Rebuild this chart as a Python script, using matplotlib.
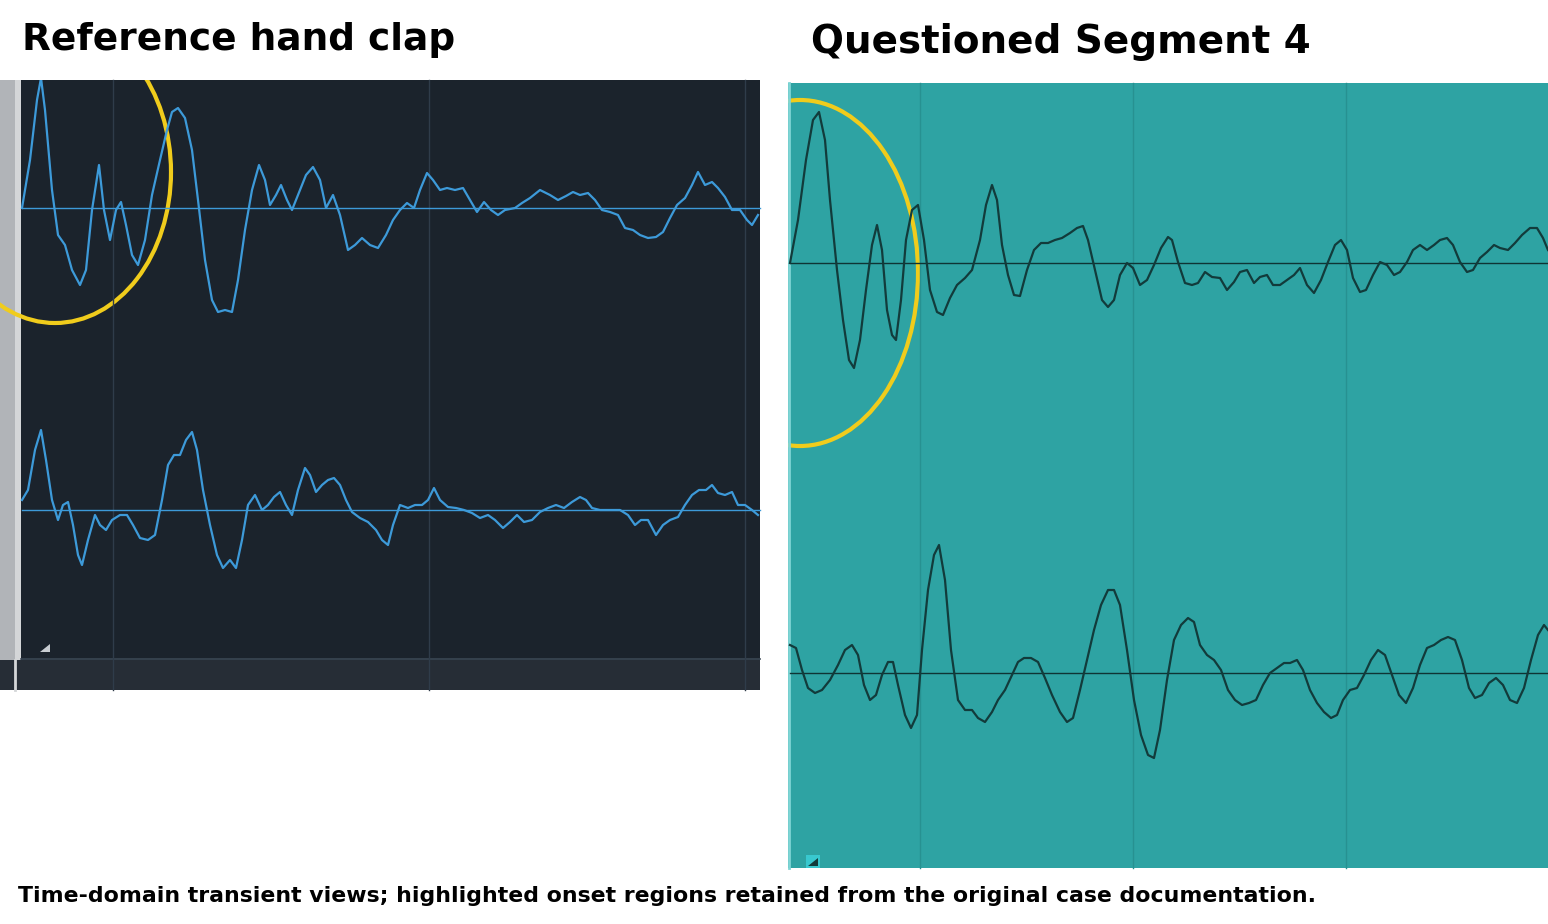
import numpy as np
import matplotlib.pyplot as plt
from matplotlib.patches import Rectangle, Ellipse, Polygon

# waveform samples: x position (px) and y position (px)
left_top_x = [22, 30, 37, 41, 45, 52, 58, 65, 72, 80, 86, 92, 99, 104, 110, 116, 121, 126, 132, 138, 145, 152, 160, 167, 172, 178, 185, 192, 198, 205, 212, 218, 225, 232, 238, 245, 252, 259, 265, 270, 276, 281, 287, 292, 298, 306, 313, 320, 326, 333, 340, 348, 355, 362, 370, 378, 386, 393, 400, 407, 414, 420, 427, 433, 440, 447, 455, 463, 470, 477, 484, 491, 498, 505, 515, 522, 530, 540, 550, 558, 566, 573, 580, 588, 595, 602, 610, 618, 625, 633, 640, 648, 656, 663, 670, 677, 685, 692, 698, 705, 712, 718, 725, 732, 740, 747, 752, 758]
left_top_y = [208, 160, 100, 78, 110, 190, 235, 245, 270, 285, 270, 210, 165, 210, 240, 210, 202, 225, 255, 265, 240, 195, 160, 130, 112, 108, 118, 150, 200, 260, 300, 312, 310, 312, 280, 230, 190, 165, 180, 205, 195, 185, 200, 210, 195, 175, 167, 180, 208, 195, 215, 250, 245, 238, 245, 248, 235, 220, 210, 203, 208, 190, 173, 180, 190, 188, 190, 188, 200, 212, 202, 210, 215, 210, 208, 203, 198, 190, 195, 200, 196, 192, 195, 193, 200, 210, 212, 215, 228, 230, 235, 238, 237, 232, 218, 205, 198, 185, 172, 185, 182, 188, 197, 210, 210, 220, 225, 215]
left_bot_x = [22, 28, 35, 41, 46, 52, 58, 63, 68, 73, 78, 82, 88, 95, 100, 106, 112, 120, 127, 133, 140, 148, 155, 162, 168, 174, 180, 186, 192, 197, 203, 210, 217, 223, 230, 236, 242, 248, 255, 262, 268, 274, 280, 286, 292, 298, 305, 310, 316, 322, 328, 334, 340, 346, 352, 360, 368, 376, 382, 388, 393, 400, 408, 415, 422, 428, 434, 440, 448, 456, 464, 472, 480, 488, 495, 503, 510, 517, 524, 532, 540, 548, 556, 564, 572, 580, 586, 592, 600, 610, 620, 628, 635, 641, 648, 656, 663, 670, 678, 685, 692, 699, 706, 712, 718, 725, 732, 738, 745, 752, 758]
left_bot_y = [500, 490, 450, 430, 460, 500, 520, 505, 502, 525, 555, 565, 540, 515, 525, 530, 520, 515, 515, 525, 538, 540, 535, 500, 465, 455, 455, 440, 432, 450, 490, 525, 555, 568, 560, 568, 540, 505, 495, 510, 505, 497, 492, 505, 515, 490, 468, 475, 492, 485, 480, 478, 485, 500, 512, 518, 522, 530, 540, 545, 525, 505, 508, 505, 505, 500, 488, 500, 507, 508, 510, 513, 518, 515, 520, 528, 522, 515, 522, 520, 512, 508, 505, 508, 502, 497, 500, 508, 510, 510, 510, 515, 525, 520, 520, 535, 525, 520, 517, 505, 495, 490, 490, 485, 493, 495, 492, 505, 505, 510, 515]
right_top_x = [790, 798, 806, 813, 819, 825, 830, 837, 843, 849, 854, 860, 866, 872, 877, 882, 887, 892, 896, 901, 906, 912, 918, 924, 930, 937, 943, 950, 957, 965, 972, 980, 986, 992, 997, 1002, 1008, 1014, 1020, 1027, 1034, 1041, 1048, 1055, 1062, 1070, 1077, 1083, 1088, 1095, 1102, 1108, 1114, 1120, 1127, 1133, 1140, 1147, 1154, 1161, 1168, 1172, 1178, 1185, 1192, 1198, 1205, 1212, 1220, 1227, 1234, 1240, 1247, 1254, 1260, 1267, 1273, 1280, 1287, 1294, 1300, 1307, 1314, 1321, 1328, 1335, 1341, 1347, 1353, 1360, 1366, 1373, 1380, 1387, 1394, 1400, 1407, 1413, 1420, 1427, 1434, 1440, 1447, 1453, 1460, 1467, 1473, 1480, 1487, 1494, 1500, 1508, 1515, 1522, 1530, 1537, 1543, 1548]
right_top_y = [263, 220, 160, 120, 112, 140, 200, 270, 320, 360, 368, 340, 290, 245, 225, 250, 310, 335, 340, 300, 240, 210, 205, 240, 290, 312, 315, 298, 285, 278, 270, 240, 205, 185, 200, 245, 275, 295, 296, 270, 250, 243, 243, 240, 238, 233, 228, 226, 240, 270, 300, 307, 300, 275, 263, 268, 285, 280, 265, 248, 237, 240, 262, 283, 285, 283, 272, 277, 278, 290, 282, 272, 270, 283, 277, 275, 285, 285, 280, 275, 268, 285, 293, 280, 262, 245, 240, 250, 278, 292, 290, 275, 262, 265, 275, 272, 262, 250, 245, 250, 245, 240, 238, 245, 262, 272, 270, 258, 252, 245, 248, 250, 243, 235, 228, 228, 238, 250]
right_bot_x = [790, 796, 802, 808, 815, 822, 830, 838, 845, 852, 858, 864, 870, 876, 882, 888, 893, 898, 905, 911, 917, 922, 928, 934, 939, 945, 951, 958, 965, 972, 978, 985, 992, 998, 1005, 1012, 1018, 1024, 1031, 1038, 1045, 1052, 1060, 1067, 1073, 1080, 1087, 1094, 1101, 1108, 1114, 1120, 1127, 1134, 1141, 1148, 1154, 1160, 1167, 1174, 1181, 1188, 1194, 1200, 1207, 1214, 1221, 1228, 1235, 1242, 1249, 1256, 1263, 1270, 1277, 1284, 1290, 1297, 1303, 1310, 1317, 1324, 1331, 1337, 1343, 1350, 1357, 1364, 1371, 1378, 1385, 1392, 1399, 1406, 1413, 1420, 1427, 1434, 1441, 1448, 1455, 1462, 1469, 1475, 1482, 1489, 1496, 1503, 1510, 1517, 1524, 1531, 1538, 1544, 1548]
right_bot_y = [645, 648, 670, 688, 693, 690, 680, 665, 650, 645, 655, 685, 700, 695, 675, 662, 662, 685, 715, 728, 715, 650, 590, 555, 545, 580, 650, 700, 710, 710, 718, 722, 712, 700, 690, 675, 662, 658, 658, 662, 678, 695, 712, 722, 718, 690, 660, 630, 605, 590, 590, 605, 650, 700, 735, 755, 758, 730, 680, 640, 625, 618, 622, 645, 655, 660, 670, 690, 700, 705, 703, 700, 685, 673, 668, 663, 663, 660, 670, 690, 703, 712, 718, 715, 700, 690, 688, 675, 660, 650, 655, 675, 695, 703, 688, 665, 648, 645, 640, 637, 640, 660, 688, 698, 695, 683, 678, 685, 700, 703, 688, 660, 635, 625, 630]

title_left = "Reference hand clap"
title_right = "Questioned Segment 4"
caption = "Time-domain transient views; highlighted onset regions retained from the original case documentation."

W, H = 1548, 924
fig = plt.figure(figsize=(W / 100, H / 100), dpi=100)
ax = fig.add_axes([0, 0, 1, 1])
ax.set_xlim(0, W)
ax.set_ylim(H, 0)
ax.axis('off')

# left panel (dark editor view)
left = Rectangle((0, 80), 760, 610, facecolor='#1b232c', edgecolor='none')
ax.add_patch(left)
ax.add_patch(Rectangle((0, 660), 760, 30, facecolor='#262d36', edgecolor='none'))
ax.add_patch(Rectangle((0, 80), 15, 580, facecolor='#b1b4b8', edgecolor='none'))
ax.add_patch(Rectangle((15, 80), 6, 580, facecolor='#d4d6d8', edgecolor='none'))
ax.plot([15, 15], [660, 690], color='#d4d6d8', lw=2)
ax.plot([21, 760], [659, 659], color='#3a4653', lw=1.2)
for gx in [113, 429, 745]:
    ax.plot([gx, gx], [80, 690], color='#2f3c4a', lw=1)
for base in [208, 510]:
    ax.plot([22, 760], [base, base], color='#3d9ad9', lw=1)
for xs, ys in [(left_top_x, left_top_y), (left_bot_x, left_bot_y)]:
    ln, = ax.plot(xs, ys, color='#3d9ad9', lw=1.6, solid_joinstyle='round')
    ln.set_clip_path(left)
ax.add_patch(Polygon([(40, 652), (50, 652), (50, 644)], facecolor='#c8cdd2'))
e1 = Ellipse((55, 172), 232, 302, fill=False, edgecolor='#f0cc1c', lw=3)
ax.add_patch(e1)
e1.set_clip_path(left)

# right panel (teal view)
right = Rectangle((788, 83), 760, 785, facecolor='#2ea3a3', edgecolor='none')
ax.add_patch(right)
ax.plot([789, 789], [83, 868], color='#7fd5d5', lw=2)
for gx in [920, 1133, 1346]:
    ax.plot([gx, gx], [83, 868], color='#279191', lw=1)
for base in [263, 673]:
    ax.plot([790, 1548], [base, base], color='#0f3434', lw=1)
for xs, ys in [(right_top_x, right_top_y), (right_bot_x, right_bot_y)]:
    ln, = ax.plot(xs, ys, color='#123b3b', lw=1.6, solid_joinstyle='round')
    ln.set_clip_path(right)
ax.add_patch(Rectangle((806, 855), 14, 13, facecolor='#39c8cf', edgecolor='none'))
ax.add_patch(Polygon([(808, 866), (818, 866), (818, 858)], facecolor='#123b3b'))
e2 = Ellipse((800, 273), 236, 346, fill=False, edgecolor='#f0cc1c', lw=3)
ax.add_patch(e2)
e2.set_clip_path(right)

ax.text(22, 40, title_left, fontsize=27, fontweight='bold', va='center', ha='left')
ax.text(811, 42, title_right, fontsize=28, fontweight='bold', va='center', ha='left')
ax.text(18, 896, caption, fontsize=15.8, fontweight='bold', va='center', ha='left')

fig.savefig('out.png', dpi=100)
